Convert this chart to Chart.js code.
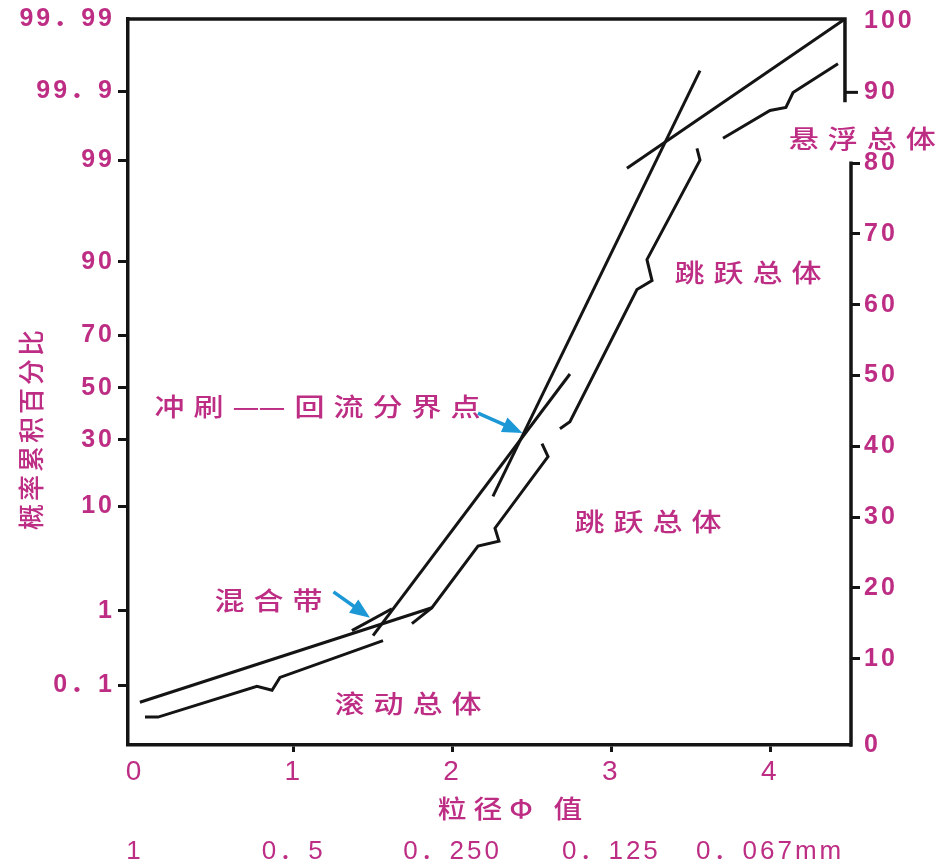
<!DOCTYPE html>
<html><head><meta charset="utf-8">
<script src="https://cdn.jsdelivr.net/npm/chart.js@4.4.1/dist/chart.umd.min.js"></script>
<style>html,body{margin:0;padding:0;background:#fff}#wrap{width:940px;height:865px}</style>
</head><body><div id="wrap"><canvas id="c" width="940" height="865"></canvas></div>
<script>
// ---- axes ----
const xTickValues = [0, 1, 2, 3, 4];
const xTickLabels = ['0', '1', '2', '3', '4'];
const sizeTickLabels = ['1', '0．5', '0．250', '0．125', '0．067mm'];
const leftTickValues = [100.36, 90.12, 80.42, 66.09, 55.70, 48.25, 40.95, 31.54, 16.79, 6.25];
const leftTickLabels = ['99．99', '99．9', '99', '90', '70', '50', '30', '10', '1', '0．1'];
const rightTickValues = [-2.18, 10, 20, 30, 40, 50, 60, 70, 80, 90, 100];
const rightTickLabels = ['0', '10', '20', '30', '40', '50', '60', '70', '80', '90', '100'];
const xRange = [-0.044, 4.509];
const yRange = [-2.18, 100.36];
const rightAxisGap = [88.85, 80];   // right frame is broken between these values

// ---- fitted straight segments (sample 1) ----
const fitRollX = [0.031, 1.870];   const fitRollY = [3.86, 17.21];
const mixX = [1.366, 1.618];       const mixY = [13.98, 17.07];
const fitSalt1X = [1.499, 2.739];  const fitSalt1Y = [13.27, 50.22];
const fitSalt2X = [2.254, 3.558];  const fitSalt2Y = [32.94, 93.06];
const fitSuspX = [3.098, 4.471];   const fitSuspY = [79.29, 100.36];

// ---- cumulative curve pieces (sample 2) ----
const rollX = [0.063, 0.145, 0.768, 0.863, 0.913, 1.562];
const rollY = [1.76, 1.76, 6.11, 5.55, 7.37, 12.57];
const salt1X = [1.744, 1.870, 2.160, 2.292, 2.267, 2.601, 2.563];
const salt1Y = [14.96, 17.21, 25.92, 26.62, 28.44, 38.56, 40.38];
const salt2X = [2.676, 2.739, 3.161, 3.256, 3.224, 3.558, 3.539];
const salt2Y = [42.49, 43.47, 62.16, 63.42, 66.37, 80.42, 82.10];
const suspX = [3.703, 3.999, 4.099, 4.144, 4.427];
const suspY = [83.51, 87.44, 87.86, 89.97, 94.04];

// ---- annotations ----
const annoTexts = ['悬浮总体', '跳跃总体', '跳跃总体', '滚动总体', '冲刷——回流分界点', '混合带'];
const annoX = [4.58, 3.86, 3.23, 1.72, 1.15, 0.84];
const annoY = [83.5, 64.5, 29.4, 3.7, 45.6, 18.2];
const arrowFromX = [2.16, 1.25];  const arrowFromY = [44.7, 19.45];
const arrowToX = [2.44, 1.48];    const arrowToY = [41.9, 15.8];
const yTitle = '概率累积百分比';
const xTitle = '粒径Φ 值';

const MAG = '#BD2D84';
const INK = '#141414';
const BLUE = '#1C98D6';
const NUMFONT = '"Liberation Sans", "Noto Sans CJK SC", sans-serif';
const NARROW = '"Liberation Sans Narrow", "Liberation Sans", "Noto Sans CJK SC", sans-serif';
const CJK = '"Noto Sans CJK SC", sans-serif';

const pieces = [
  [fitRollX, fitRollY], [mixX, mixY], [fitSalt1X, fitSalt1Y], [fitSalt2X, fitSalt2Y], [fitSuspX, fitSuspY],
  [rollX, rollY], [salt1X, salt1Y], [salt2X, salt2Y], [suspX, suspY]
];
const datasets = pieces.map(([xs, ys]) => ({
  data: xs.map((x, i) => ({x: x, y: ys[i]})),
  showLine: true, borderColor: INK, borderWidth: 3, pointRadius: 0, fill: false,
  tension: 0, borderJoinStyle: 'miter', xAxisID: 'x', yAxisID: 'y'
}));

function spacedText(ctx, text, cx, cy, size, spacing, sx, weight) {
  ctx.save();
  ctx.font = (weight || '500') + ' ' + size + 'px ' + CJK;
  try { ctx.letterSpacing = '0px'; } catch (e) {}
  ctx.textBaseline = 'middle';
  ctx.textAlign = 'left';
  ctx.fillStyle = MAG;
  const chars = Array.from(text);
  const ws = chars.map(ch => ctx.measureText(ch).width * sx);
  const gap = (i) => (chars[i] === '—' && chars[i + 1] === '—') ? -1 : spacing;
  let total = 0;
  chars.forEach((ch, i) => { total += ws[i] + (i < chars.length - 1 ? gap(i) : 0); });
  let x = cx - total / 2;
  chars.forEach((ch, i) => {
    ctx.save(); ctx.translate(x, cy); ctx.scale(sx, 1); ctx.fillText(ch, 0, 0); ctx.restore();
    x += ws[i] + gap(i);
  });
  ctx.restore();
}

function drawArrow(ctx, x1, y1, x2, y2) {
  const a = Math.atan2(y2 - y1, x2 - x1), hl = 20, hw = 8;
  const bx = x2 - hl * Math.cos(a), by = y2 - hl * Math.sin(a);
  ctx.save();
  ctx.strokeStyle = BLUE; ctx.fillStyle = BLUE; ctx.lineWidth = 3.5; ctx.lineCap = 'butt';
  ctx.beginPath(); ctx.moveTo(x1, y1); ctx.lineTo(bx + Math.cos(a), by + Math.sin(a)); ctx.stroke();
  ctx.beginPath(); ctx.moveTo(x2, y2);
  ctx.lineTo(bx + hw * Math.sin(a), by - hw * Math.cos(a));
  ctx.lineTo(bx - hw * Math.sin(a), by + hw * Math.cos(a));
  ctx.closePath(); ctx.fill();
  ctx.restore();
}

const decor = {
  id: 'decor',
  beforeDraw(chart) { try { chart.ctx.letterSpacing = '3px'; } catch (e) {} },
  afterDraw(chart) {
    const ctx = chart.ctx, xs = chart.scales.x, ys = chart.scales.y, ca = chart.chartArea;
    try { ctx.letterSpacing = '0px'; } catch (e) {}
    ctx.save();
    ctx.strokeStyle = INK; ctx.lineWidth = 3.5; ctx.lineCap = 'square';
    const xr = xs.getPixelForValue(fitSuspX[fitSuspX.length - 1]);
    ctx.beginPath();
    ctx.moveTo(ca.left, ca.top); ctx.lineTo(xr, ca.top);
    ctx.moveTo(xr, ca.top); ctx.lineTo(xr, ys.getPixelForValue(rightAxisGap[0]));
    ctx.stroke();
    ctx.lineCap = 'butt'; ctx.lineWidth = 3;
    ctx.beginPath();
    ctx.moveTo(xr, ys.getPixelForValue(90)); ctx.lineTo(xr + 13, ys.getPixelForValue(90));
    ctx.stroke();
    ctx.lineWidth = 3.5; ctx.lineCap = 'square';
    ctx.beginPath();
    ctx.moveTo(ca.right, ys.getPixelForValue(rightAxisGap[1])); ctx.lineTo(ca.right, ca.bottom);
    ctx.stroke();
    ctx.restore();

    for (let i = 0; i < arrowFromX.length; i++) {
      drawArrow(ctx, xs.getPixelForValue(arrowFromX[i]), ys.getPixelForValue(arrowFromY[i]),
                xs.getPixelForValue(arrowToX[i]), ys.getPixelForValue(arrowToY[i]));
    }
    annoTexts.forEach((t, i) => {
      spacedText(ctx, t, xs.getPixelForValue(annoX[i]), ys.getPixelForValue(annoY[i]), 25, 9, 1.2);
    });
    // axis titles
    spacedText(ctx, xTitle, 510, 808, 25, 7, 1.15);
    ctx.save();
    ctx.translate(31, 430); ctx.rotate(-Math.PI / 2);
    spacedText(ctx, yTitle, 0, 0, 26, 3, 1.0);
    ctx.restore();
  }
};

const tickCol = (hidden) => (c) => hidden.includes(c.index) ? 'rgba(0,0,0,0)' : INK;

new Chart(document.getElementById('c'), {
  type: 'scatter',
  data: { datasets: datasets },
  options: {
    responsive: false, animation: false, events: [],
    layout: { padding: { top: 15, left: 0, right: 0, bottom: 0 } },
    plugins: { legend: { display: false }, tooltip: { enabled: false } },
    scales: {
      x: {
        type: 'linear', axis: 'x', position: 'bottom', min: xRange[0], max: xRange[1],
        afterBuildTicks: s => { s.ticks = xTickValues.map(v => ({value: v})); },
        afterFit: s => { s.height = 80; },
        ticks: { autoSkip: false, maxRotation: 0, padding: 3, color: MAG,
                 font: { family: NARROW, size: 28 }, callback: (v, i) => xTickLabels[i] },
        grid: { drawOnChartArea: false, drawTicks: true, tickLength: 7, tickWidth: 3, tickColor: tickCol([0]) },
        border: { display: true, color: INK, width: 3.5 }
      },
      x2: {
        type: 'linear', axis: 'x', position: 'bottom', min: xRange[0], max: xRange[1],
        afterBuildTicks: s => { s.ticks = xTickValues.map(v => ({value: v})); },
        afterFit: s => { s.height = 40; },
        ticks: { autoSkip: false, maxRotation: 0, padding: 11, color: MAG,
                 font: { family: NARROW, size: 26 }, callback: (v, i) => sizeTickLabels[i] },
        grid: { display: false, drawTicks: false },
        border: { display: false }
      },
      y: {
        type: 'linear', axis: 'y', position: 'left', min: yRange[0], max: yRange[1],
        afterBuildTicks: s => { s.ticks = leftTickValues.map(v => ({value: v})); },
        afterFit: s => { s.width = 128; },
        ticks: { autoSkip: false, padding: 3, color: MAG,
                 font: { family: NUMFONT, size: 25, weight: 'bold' }, callback: (v, i) => leftTickLabels[i] },
        grid: { drawOnChartArea: false, drawTicks: true, tickLength: 10, tickWidth: 3, tickColor: tickCol([0]) },
        border: { display: true, color: INK, width: 3.5 }
      },
      y2: {
        type: 'linear', axis: 'y', position: 'right', min: yRange[0], max: yRange[1],
        afterBuildTicks: s => { s.ticks = rightTickValues.map(v => ({value: v})); },
        afterFit: s => { s.width = 89; },
        ticks: { autoSkip: false, padding: 4, color: MAG,
                 font: { family: NUMFONT, size: 25, weight: 'bold' }, callback: (v, i) => rightTickLabels[i] },
        grid: { drawOnChartArea: false, drawTicks: true, tickLength: 9, tickWidth: 3, tickColor: tickCol([0, 9, 10]) },
        border: { display: false }
      }
    }
  },
  plugins: [decor]
});
</script>
</body></html>
